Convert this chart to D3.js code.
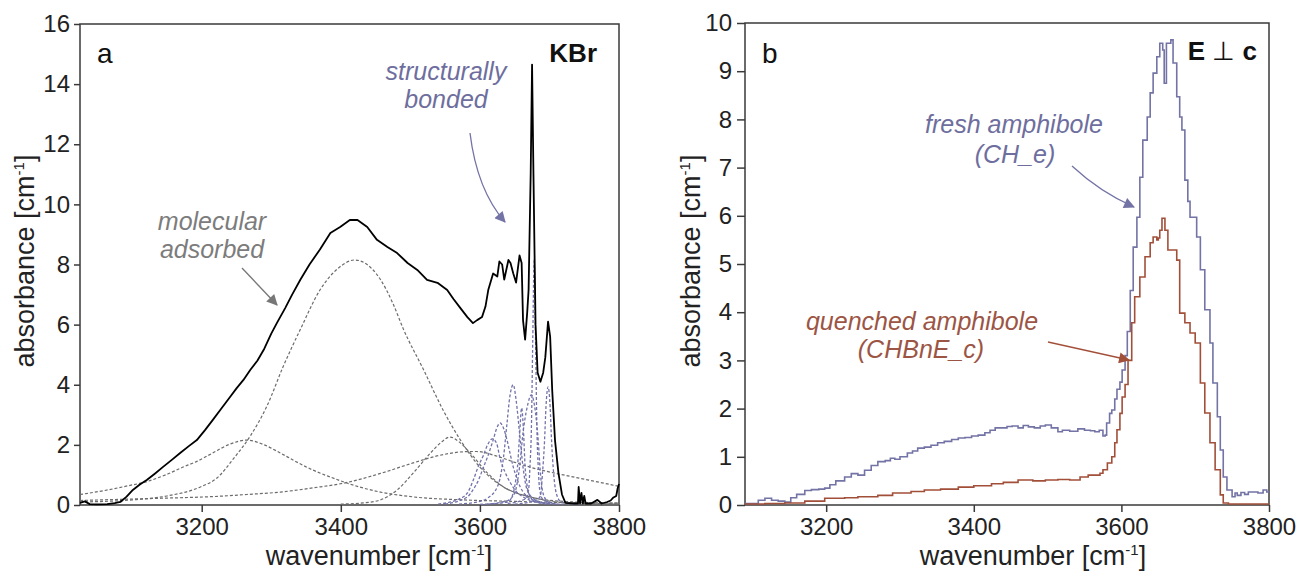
<!DOCTYPE html>
<html>
<head>
<meta charset="utf-8">
<script src="https://cdn.jsdelivr.net/npm/d3@7"></script>
<style>
  body { margin: 0; background: #fff; }
  text { font-family: "Liberation Sans", Arial, sans-serif; }
</style>
</head>
<body>
<script>
// ---- data ----
// panel a: KBr pellet spectrum, [wavenumber, absorbance]
var kbrSpectrum = [[3025,0.07],[3032,0.12],[3039,0.03],[3050,0.02],[3064,0.03],[3075,0.06],[3083,0.1],[3092,0.28],[3101,0.5],[3111,0.68],[3121,0.83],[3133,1.05],[3144,1.26],[3157,1.5],[3169,1.73],[3181,1.95],[3193,2.16],[3205,2.5],[3216,2.83],[3228,3.2],[3241,3.6],[3250,3.88],[3260,4.16],[3270,4.5],[3280,4.8],[3290,5.2],[3300,5.7],[3308,6.05],[3320,6.55],[3330,7.0],[3342,7.5],[3355,8.0],[3370,8.5],[3385,9.05],[3399,9.25],[3413,9.48],[3424,9.48],[3438,9.25],[3452,8.82],[3467,8.58],[3481,8.38],[3496,8.05],[3510,7.82],[3524,7.49],[3539,7.39],[3553,7.15],[3562,6.85],[3572,6.55],[3582,6.25],[3590,6.05],[3596,6.15],[3603,6.25],[3608,6.6],[3612,7.15],[3619,7.7],[3625,7.6],[3628,8.1],[3632,8.0],[3635,7.5],[3641,8.15],[3644,8.05],[3648,7.7],[3652,7.4],[3657,8.3],[3660,8.05],[3662,6.15],[3665,5.5],[3668,6.4],[3670,7.15],[3673,11],[3675,14.65],[3677,11],[3680,6.0],[3683,4.4],[3687,4.1],[3691,4.4],[3694,4.9],[3698,6.1],[3701,5.6],[3704,3.8],[3708,2.15],[3713,1.05],[3718,0.35],[3723,0.07],[3735,0.05],[3741,0.05],[3742,0.6],[3744,0.05],[3746,0.4],[3748,0.05],[3750,0.3],[3752,0.05],[3760,0.05],[3769,0.17],[3775,0.05],[3783,0.1],[3788,0.15],[3792,0.25],[3796,0.3],[3798,0.55],[3800,0.7]];

// fitted bands, molecular (gray dashed)
var molBand1 = [[3025,0.1],[3100,0.17],[3150,0.3],[3198,0.6],[3222,0.9],[3246,1.55],[3270,2.3],[3294,3.3],[3317,4.6],[3342,5.85],[3370,7.15],[3395,7.85],[3420,8.15],[3445,7.85],[3457,7.5],[3475,6.7],[3490,5.85],[3519,4.5],[3547,3.16],[3572,2.16],[3600,1.26],[3634,0.6],[3672,0.27],[3720,0.12],[3800,0.06]];
var molBand2 = [[3025,0.35],[3060,0.48],[3090,0.62],[3121,0.78],[3150,1.02],[3175,1.28],[3193,1.45],[3215,1.72],[3240,2.02],[3265,2.16],[3290,2.0],[3313,1.73],[3335,1.45],[3360,1.16],[3385,0.93],[3409,0.73],[3433,0.56],[3457,0.43],[3504,0.27],[3576,0.17],[3650,0.12],[3720,0.08],[3800,0.06]];
var molBand3 = [[3025,0.15],[3101,0.2],[3150,0.23],[3216,0.28],[3265,0.35],[3313,0.43],[3360,0.57],[3409,0.75],[3457,1.05],[3504,1.4],[3540,1.64],[3576,1.77],[3595,1.78],[3625,1.62],[3650,1.42],[3672,1.26],[3696,1.12],[3720,1.0],[3769,0.77],[3800,0.62]];
var molBand4 = [[3400,0.03],[3432,0.07],[3457,0.17],[3481,0.5],[3504,1.06],[3529,1.73],[3545,2.1],[3557,2.26],[3570,2.1],[3586,1.73],[3611,1.06],[3634,0.6],[3652,0.4],[3672,0.27],[3711,0.1],[3760,0.05],[3800,0.03]];

// fitted bands, structurally bonded OH (purple dashed)
var ohBand1 = [[3540,0.03],[3570,0.2],[3582,0.4],[3590,0.8],[3598,1.3],[3605,1.65],[3611,2.0],[3618,2.2],[3624,2.05],[3629,1.55],[3636,1.1],[3644,0.73],[3652,0.45],[3662,0.27],[3680,0.1],[3710,0.03]];
var ohBand2 = [[3550,0.03],[3582,0.27],[3590,0.5],[3598,0.83],[3605,1.25],[3611,1.6],[3619,2.16],[3625,2.6],[3629,2.73],[3634,2.55],[3639,2.16],[3644,1.65],[3648,1.26],[3653,0.9],[3658,0.6],[3665,0.35],[3672,0.2],[3700,0.05]];
var ohBand3 = [[3570,0.03],[3600,0.12],[3611,0.23],[3625,0.6],[3630,1.0],[3634,1.6],[3639,2.73],[3643,3.6],[3648,4.0],[3652,3.5],[3657,2.4],[3662,1.26],[3668,0.5],[3680,0.17],[3700,0.05]];
var ohBand4 = [[3600,0.02],[3640,0.1],[3648,0.4],[3652,0.9],[3654,1.26],[3657,2.3],[3660,3.23],[3663,2.3],[3665,1.26],[3667,0.8],[3670,0.4],[3680,0.1],[3700,0.03]];
var ohBand5 = [[3610,0.03],[3640,0.15],[3650,0.4],[3657,1.26],[3662,2.4],[3668,3.26],[3674,3.66],[3680,3.06],[3684,2.1],[3687,1.06],[3692,0.3],[3700,0.08],[3720,0.02]];
var ohBand6 = [[3640,0.05],[3665,0.2],[3670,0.5],[3672,1.3],[3674,2.5],[3676,5.5],[3678,8.15],[3680,5.5],[3682,2.5],[3684,1.2],[3686,0.5],[3690,0.2],[3710,0.03]];
var ohBand7 = [[3650,0.03],[3680,0.15],[3687,0.3],[3690,1.06],[3693,2.16],[3695,3.26],[3698,3.93],[3701,3.26],[3703,2.16],[3706,1.06],[3711,0.3],[3718,0.08],[3740,0.02]];

// panel b: polarised spectra E perp c
var freshSpectrum = [[3090,0.03],[3100,0.03],[3108,0.1],[3117,0.14],[3126,0.1],[3135,0.08],[3144,0.06],[3152,0.15],[3160,0.22],[3171,0.3],[3180,0.32],[3190,0.33],[3198,0.35],[3205,0.42],[3213,0.5],[3225,0.58],[3234,0.65],[3243,0.62],[3252,0.72],[3261,0.82],[3270,0.9],[3280,0.92],[3287,0.97],[3293,0.95],[3300,1.0],[3310,1.08],[3317,1.12],[3324,1.18],[3333,1.2],[3342,1.24],[3351,1.29],[3360,1.32],[3370,1.36],[3379,1.39],[3388,1.4],[3397,1.43],[3406,1.45],[3415,1.5],[3422,1.55],[3429,1.6],[3438,1.6],[3445,1.63],[3452,1.64],[3460,1.6],[3467,1.65],[3474,1.62],[3482,1.6],[3490,1.64],[3497,1.66],[3505,1.6],[3514,1.52],[3520,1.55],[3530,1.53],[3541,1.58],[3550,1.55],[3558,1.54],[3564,1.52],[3570,1.55],[3575,1.43],[3578,1.45],[3580,1.7],[3584,1.9],[3587,1.97],[3591,2.2],[3594,2.4],[3598,2.55],[3601,2.8],[3605,3.1],[3608,3.6],[3612,4.45],[3616,5.35],[3621,5.97],[3625,6.8],[3629,7.57],[3635,8.05],[3639,8.55],[3643,8.96],[3648,9.3],[3652,9.58],[3656,9.44],[3658,8.75],[3661,9.58],[3667,9.65],[3670,9.17],[3675,8.47],[3679,8.05],[3682,7.78],[3686,6.74],[3690,6.3],[3693,5.97],[3702,5.56],[3707,4.88],[3713,4.05],[3720,3.36],[3724,2.53],[3730,1.83],[3734,1.14],[3738,0.58],[3743,0.31],[3750,0.17],[3754,0.25],[3757,0.2],[3762,0.26],[3767,0.22],[3772,0.27],[3778,0.27],[3785,0.25],[3792,0.31],[3797,0.27],[3800,0.27]];
var quenchedSpectrum = [[3090,0.02],[3117,0.03],[3144,0.04],[3171,0.08],[3198,0.14],[3225,0.15],[3243,0.17],[3270,0.2],[3290,0.25],[3315,0.28],[3333,0.31],[3355,0.33],[3379,0.37],[3400,0.4],[3424,0.44],[3440,0.47],[3460,0.52],[3480,0.5],[3497,0.52],[3514,0.53],[3530,0.52],[3544,0.58],[3555,0.62],[3571,0.66],[3575,0.73],[3581,0.87],[3587,1.0],[3591,1.29],[3594,1.56],[3598,1.9],[3601,2.24],[3605,2.5],[3609,3.0],[3614,3.78],[3618,4.32],[3625,4.73],[3632,5.15],[3639,5.44],[3643,5.56],[3648,5.5],[3650,5.54],[3652,5.7],[3655,5.95],[3659,5.7],[3663,5.29],[3670,5.29],[3675,5.08],[3679,3.98],[3686,3.78],[3693,3.57],[3700,3.36],[3707,2.53],[3713,1.91],[3720,1.29],[3727,0.73],[3734,0.21],[3738,0.04],[3745,0.02],[3800,0.02]];

var xTicks = [3200, 3400, 3600, 3800];
var yTicksA = [0, 2, 4, 6, 8, 10, 12, 14, 16];
var yTicksB = [0, 1, 2, 3, 4, 5, 6, 7, 8, 9, 10];

// ---- colours ----
var purple = "#7373a6", purpleText = "#6e6e9e", brown = "#a24f3a", brownText = "#9c5544",
    grayDash = "#6c6c6c", purpleDash = "#7272aa", grayText = "#7c7c7c", axisCol = "#3a3a3a";

var svg = d3.select("body").append("svg")
  .attr("width", 1304).attr("height", 574);

// arrowheads
var defs = svg.append("defs");
[["arrGray", "#777"], ["arrPurple", purple], ["arrBrown", brown]].forEach(function(m) {
  defs.append("marker")
    .attr("id", m[0]).attr("viewBox", "0 0 10 10")
    .attr("refX", 9).attr("refY", 5)
    .attr("markerWidth", 16).attr("markerHeight", 11)
    .attr("markerUnits", "userSpaceOnUse")
    .attr("orient", "auto")
    .append("path").attr("d", "M0,0 L10,5 L0,10 Z").attr("fill", m[1]);
});

function drawPanel(cfg) {
  var x = d3.scaleLinear().domain(cfg.xDomain).range(cfg.xRange);
  var y = d3.scaleLinear().domain(cfg.yDomain).range([505, cfg.top]);
  var g = svg.append("g");

  var yAxis = d3.axisLeft(y).tickValues(cfg.yTicks).tickFormat(d3.format("d"))
    .tickSize(cfg.tick).tickPadding(cfg.pad).tickSizeOuter(0);
  var xAxis = d3.axisBottom(x).tickValues(xTicks).tickFormat(d3.format("d"))
    .tickSize(7).tickPadding(6).tickSizeOuter(0);

  var ga = g.append("g").attr("transform", "translate(" + cfg.xRange[0] + ",0)").call(yAxis);
  var gb = g.append("g").attr("transform", "translate(0,505)").call(xAxis);
  [ga, gb].forEach(function(a) {
    a.select(".domain").remove();
    a.selectAll("line").attr("stroke", axisCol).attr("stroke-width", 1.5);
    a.selectAll("text").attr("fill", "#222").style("font-size", "24px")
      .style("font-family", "'Liberation Sans', Arial, sans-serif");
  });

  // frame
  g.append("rect")
    .attr("x", cfg.xRange[0]).attr("y", cfg.top)
    .attr("width", cfg.xRange[1] - cfg.xRange[0]).attr("height", 505 - cfg.top)
    .attr("fill", "none").attr("stroke", axisCol).attr("stroke-width", 1.5);

  // axis titles
  var yt = g.append("text")
    .attr("transform", "translate(" + cfg.yTitleX + ",261) rotate(-90)")
    .attr("text-anchor", "middle").style("font-size", "27px").attr("fill", "#222")
    .text("absorbance [cm");
  yt.append("tspan").attr("dy", -10).style("font-size", "15px").text("-1");
  yt.append("tspan").attr("dy", 10).text("]");

  var xt = g.append("text")
    .attr("x", cfg.xTitleX).attr("y", 565)
    .attr("text-anchor", "middle").style("font-size", "27px").attr("fill", "#222")
    .text("wavenumber [cm");
  xt.append("tspan").attr("dy", -10).style("font-size", "15px").text("-1");
  xt.append("tspan").attr("dy", 10).text("]");

  return { g: g, x: x, y: y };
}

// ---------------- panel a ----------------
var A = drawPanel({ xDomain: [3025, 3800], xRange: [80, 619], yDomain: [0, 16], top: 24,
  yTicks: yTicksA, tick: 6, pad: 4, yTitleX: 34, xTitleX: 379 });

var lineA = d3.line().x(function(d) { return A.x(d[0]); }).y(function(d) { return A.y(d[1]); });
var bandA = d3.line().curve(d3.curveMonotoneX)
  .x(function(d) { return A.x(d[0]); }).y(function(d) { return A.y(d[1]); });

[molBand1, molBand2, molBand3, molBand4].forEach(function(b) {
  A.g.append("path").datum(b).attr("d", bandA)
    .attr("fill", "none").attr("stroke", grayDash).attr("stroke-width", 1.2)
    .attr("stroke-dasharray", "3,2");
});
[ohBand1, ohBand2, ohBand3, ohBand4, ohBand5, ohBand6, ohBand7].forEach(function(b) {
  A.g.append("path").datum(b).attr("d", bandA)
    .attr("fill", "none").attr("stroke", purpleDash).attr("stroke-width", 1.3)
    .attr("stroke-dasharray", "3,2");
});
A.g.append("path").datum(kbrSpectrum).attr("d", lineA)
  .attr("fill", "none").attr("stroke", "#000").attr("stroke-width", 1.8)
  .attr("stroke-linejoin", "round");

A.g.append("text").attr("x", 97).attr("y", 63).style("font-size", "28px").attr("fill", "#111").text("a");
A.g.append("text").attr("x", 597).attr("y", 62).attr("text-anchor", "end")
  .style("font-size", "26px").style("font-weight", "bold").attr("fill", "#111").text("KBr");

var molLabel = A.g.append("text").attr("text-anchor", "middle").style("font-size", "25px")
  .style("font-style", "italic").attr("fill", grayText);
molLabel.append("tspan").attr("x", 212).attr("y", 230).text("molecular");
molLabel.append("tspan").attr("x", 212).attr("y", 258).text("adsorbed");
A.g.append("path").attr("d", "M242,268 L277,305")
  .attr("stroke", "#777").attr("stroke-width", 1.3).attr("fill", "none")
  .attr("marker-end", "url(#arrGray)");

var strLabel = A.g.append("text").attr("text-anchor", "middle").style("font-size", "25px")
  .style("font-style", "italic").attr("fill", purpleText);
strLabel.append("tspan").attr("x", 446).attr("y", 80).text("structurally");
strLabel.append("tspan").attr("x", 446).attr("y", 108).text("bonded");
A.g.append("path").attr("d", "M470,133 Q477,190 505,222")
  .attr("stroke", purple).attr("stroke-width", 1.3).attr("fill", "none")
  .attr("marker-end", "url(#arrPurple)");

// ---------------- panel b ----------------
var B = drawPanel({ xDomain: [3090, 3800], xRange: [745, 1269], yDomain: [0, 10], top: 23,
  yTicks: yTicksB, tick: 8, pad: 5, yTitleX: 700, xTitleX: 1033 });

var lineB = d3.line().curve(d3.curveStepAfter)
  .x(function(d) { return B.x(d[0]); }).y(function(d) { return B.y(d[1]); });

B.g.append("path").datum(freshSpectrum).attr("d", lineB)
  .attr("fill", "none").attr("stroke", purple).attr("stroke-width", 1.6);
B.g.append("path").datum(quenchedSpectrum).attr("d", lineB)
  .attr("fill", "none").attr("stroke", brown).attr("stroke-width", 1.6);

B.g.append("text").attr("x", 762).attr("y", 63).style("font-size", "28px").attr("fill", "#111").text("b");
var ec = B.g.append("text").attr("x", 1257).attr("y", 60).attr("text-anchor", "end")
  .style("font-size", "26px").attr("fill", "#111");
ec.append("tspan").style("font-weight", "bold").text("E");
ec.append("tspan").text(" \u22A5 ");
ec.append("tspan").style("font-weight", "bold").text("c");

var freshLabel = B.g.append("text").attr("text-anchor", "middle").style("font-size", "25px")
  .style("font-style", "italic").attr("fill", purpleText);
freshLabel.append("tspan").attr("x", 1014).attr("y", 133).text("fresh amphibole");
freshLabel.append("tspan").attr("x", 1015).attr("y", 163).text("(CH_e)");
B.g.append("path").attr("d", "M1072,166 Q1100,192 1134,207")
  .attr("stroke", purple).attr("stroke-width", 1.3).attr("fill", "none")
  .attr("marker-end", "url(#arrPurple)");

var quenchLabel = B.g.append("text").attr("text-anchor", "middle").style("font-size", "25px")
  .style("font-style", "italic").attr("fill", brownText);
quenchLabel.append("tspan").attr("x", 922).attr("y", 330).text("quenched amphibole");
quenchLabel.append("tspan").attr("x", 921).attr("y", 358).text("(CHBnE_c)");
B.g.append("path").attr("d", "M1048,342 L1129,360")
  .attr("stroke", brown).attr("stroke-width", 1.3).attr("fill", "none")
  .attr("marker-end", "url(#arrBrown)");
</script>
</body>
</html>
